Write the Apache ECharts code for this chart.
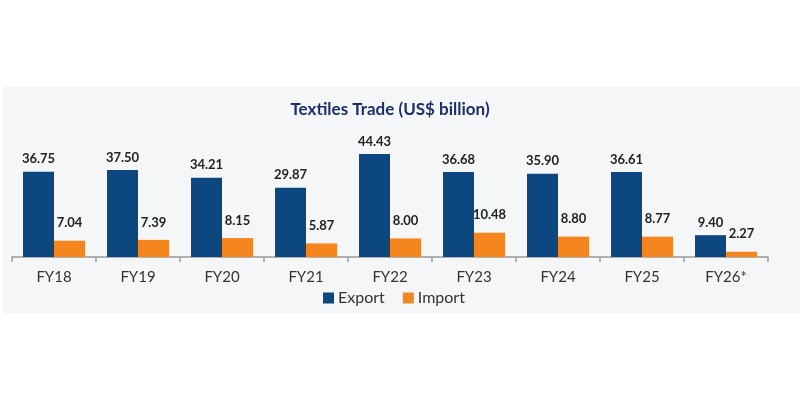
<!DOCTYPE html>
<html>
<head>
<meta charset="utf-8">
<script src="https://cdn.jsdelivr.net/npm/echarts@6/dist/echarts.min.js"></script>
<style>html,body{margin:0;padding:0;background:#fff}#c{width:800px;height:400px}</style>
</head>
<body>
<div id="c"></div>
<script>
var categories = ['FY18','FY19','FY20','FY21','FY22','FY23','FY24','FY25','FY26*'];
var exportValues = [36.75, 37.50, 34.21, 29.87, 44.43, 36.68, 35.90, 36.61, 9.40];
var importValues = [7.04, 7.39, 8.15, 5.87, 8.00, 10.48, 8.80, 8.77, 2.27];

var chart = echarts.init(document.getElementById('c'));
var labelStyle = {
  show: true, position: 'top', fontFamily: 'Lato', fontWeight: 'bold', fontSize: 13, color: '#222',
  formatter: function (p) { return p.value.toFixed(2); }
};
chart.setOption({
  animation: false,
  backgroundColor: '#ffffff',
  graphic: [{
    type: 'rect', z: -10, shape: { x: 3, y: 87, width: 797, height: 226 },
    style: { fill: '#f4f6f8' }
  }],
  title: {
    text: 'Textiles Trade (US$ billion)', left: 385, top: 96, textAlign: 'center',
    textStyle: { fontFamily: 'Lato', fontWeight: 'bold', fontSize: 17, color: '#1c2f6b' }
  },
  legend: {
    top: 285, left: 318, itemWidth: 11, itemHeight: 11, itemGap: 18,
    icon: 'rect',
    textStyle: { fontFamily: 'Lato', fontSize: 16, color: '#333', padding: [0, 0, 0, -1] },
    data: ['Export', 'Import']
  },
  grid: { left: 12, right: 32, top: 141, bottom: 143 },
  xAxis: {
    type: 'category', data: categories,
    axisLine: { lineStyle: { color: '#9a9a9a', width: 1.5 } },
    axisTick: { show: true, length: 5, lineStyle: { color: '#9a9a9a', width: 1.5 } },
    axisLabel: { fontFamily: 'Lato', fontSize: 15, color: '#333', margin: 13 }
  },
  yAxis: { type: 'value', min: 0, max: 50, show: false, splitLine: { show: false } },
  series: [{
    name: 'Export', type: 'bar', data: exportValues, barWidth: 31, barGap: '0%',
    itemStyle: { color: '#0d4780' }, label: Object.assign({ distance: 6 }, labelStyle)
  }, {
    name: 'Import', type: 'bar', data: importValues, barWidth: 31,
    itemStyle: { color: '#f5861f' }, label: Object.assign({ distance: 11 }, labelStyle)
  }]
});
</script>
</body>
</html>
